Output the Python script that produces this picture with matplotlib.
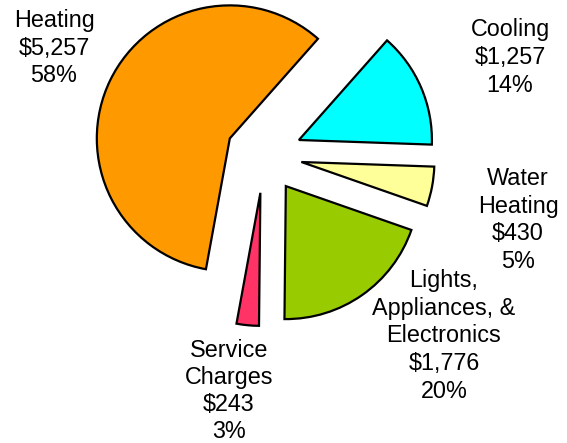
import matplotlib
matplotlib.use("Agg")
import matplotlib.pyplot as plt

# Annual energy costs by end use
categories = ["Heating", "Service\nCharges", "Lights,\nAppliances, &\nElectronics",
              "Water\nHeating", "Cooling"]
costs = [5257, 243, 1776, 430, 1257]
percent_labels = [58, 3, 20, 5, 14]
colors = ["#FF9900", "#FF3366", "#99CC00", "#FFFF99", "#00FFFF"]

W, H = 567, 443
fig = plt.figure(figsize=(W / 100, H / 100), dpi=100)
ax = fig.add_axes([0, 0, 1, 1])

center = (264, H - 155)
radius = 133
gap = 38

ax.pie(costs, colors=colors, startangle=48.5, counterclock=True,
       center=center, radius=radius, explode=[gap] * len(costs),
       wedgeprops=dict(edgecolor="black", linewidth=1.6, joinstyle="miter"))

ax.set_xlim(0, W)
ax.set_ylim(0, H)
ax.set_aspect("equal")
ax.axis("off")

# label anchors: (x centre, first baseline, line step) in pixel space from the top-left
label_pos = [(54, 27, 27.5), (229, 357, 27.0), (444, 287.5, 27.5),
             (518, 185, 27.5), (510, 36, 27.8)]

for name, cost, pct, (lx, ly, step) in zip(categories, costs, percent_labels, label_pos):
    lines = name.split("\n") + [f"${cost:,}", f"{pct}%"]
    for i, line in enumerate(lines):
        ax.text(lx, H - (ly + i * step), line, ha="center", va="baseline",
                fontsize=16.8, family=["Liberation Sans", "DejaVu Sans"], color="black")

fig.savefig("out.png", dpi=100, facecolor="white")
